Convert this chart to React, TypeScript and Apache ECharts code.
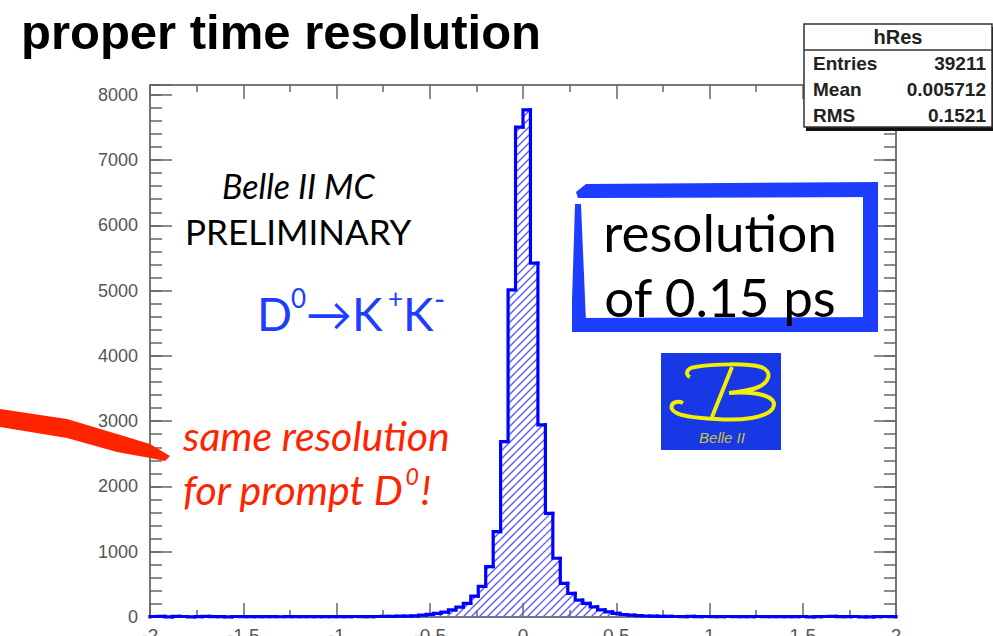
import React, { useEffect, useRef } from 'react';
import * as echarts from 'echarts';

const TITLE = 'proper time resolution';
const X_MIN = -2;
const X_MAX = 2;
const Y_MAX = 8150;
const BIN_WIDTH = 0.04;
// 100 bins of 0.04 from -2 to 2
const binValues = [
  8, 10, 2, 9, 8, 3, 7, 9, 5, 6,
  2, 8, 5, 7, 6, 5, 6, 4, 7, 5,
  6, 5, 7, 6, 5, 7, 6, 8, 7, 6,
  8, 9, 10, 12, 14, 18,
  30, 40, 55, 75, 110, 150, 210, 320, 470, 771,
  1307, 2687, 5010, 7505, 7770, 5420, 2942, 1589, 900, 516,
  363, 260, 210, 155, 110, 80, 55, 38, 28, 20,
  15, 12, 10, 9,
  8, 7, 9, 6, 8, 7, 6, 8, 5, 7,
  6, 8, 7, 5, 6, 7, 6, 8, 2, 7,
  8, 9, 6, 7, 8, 2, 3, 7, 8, 6,
];
const statsTitle = 'hRes';
const statsLabels = ['Entries', 'Mean', 'RMS'];
const statsValues = ['39211', '0.005712', '0.1521'];

const B_PATH =
  'M 29 24 C 24 22, 25 15, 34 14 C 52 11, 86 10, 100 14 C 112 18, 109 30, 95 35 C 87 38, 77 39, 68 40 ' +
  'M 68 40 C 95 38, 118 43, 112 55 C 106 65, 80 68, 55 66 C 35 65, 14 63, 11 56 C 9 50, 16 47, 22 50 ' +
  'M 71 14 L 51 64';
echarts.graphic.registerShape('belleB', echarts.graphic.extendPath(B_PATH, {}));

const HIST_BLUE = '#0000ff';
const HATCH = '#5b5bff';
const AXIS_GRAY = '#777777';
const TICK_GRAY = '#666666';
const LABEL_GRAY = '#555555';
const BLUE = '#1d3dff';
const RED = '#ff2400';

export default function App() {
  const ref = useRef<HTMLDivElement>(null);
  useEffect(() => {
    if (!ref.current) return;
    const chart = echarts.init(ref.current, undefined, { renderer: 'svg' });
    const data = binValues.map((v, i) => {
      const lo = X_MIN + i * BIN_WIDTH;
      return [lo, lo + BIN_WIDTH, v, i === 0 ? 0 : binValues[i - 1]];
    });
    const labelFont = { fontFamily: 'Liberation Sans', fontSize: 18, color: LABEL_GRAY };
    const xBase = (pos: 'bottom' | 'top', showLabel: boolean) => ({
      type: 'value', min: X_MIN, max: X_MAX, interval: 0.5, position: pos,
      axisLine: { show: true, onZero: false, lineStyle: { color: AXIS_GRAY, width: 2 } },
      axisTick: { show: true, inside: true, length: 14, lineStyle: { color: TICK_GRAY, width: 1.5 } },
      minorTick: { show: true, splitNumber: 2, length: 7, lineStyle: { color: TICK_GRAY, width: 1.5 } },
      splitLine: { show: false },
      axisLabel: { show: showLabel, margin: 9, ...labelFont, fontSize: 19 },
    });
    const yBase = (pos: 'left' | 'right', interval: number, len: number, showLabel: boolean, showLine: boolean) => ({
      type: 'value', min: 0, max: Y_MAX, interval, position: pos,
      axisLine: { show: showLine, onZero: false, lineStyle: { color: AXIS_GRAY, width: 2 } },
      axisTick: { show: true, inside: true, length: len, lineStyle: { color: TICK_GRAY, width: 1.5 } },
      splitLine: { show: false },
      axisLabel: {
        show: showLabel, margin: 12, ...labelFont,
        formatter: (v: number) => (v % 1000 === 0 ? String(v) : ''),
      },
    });
    const txt = (x: number, y: number, text: string, o: any = {}) => ({
      type: 'text', x, y, z: 20,
      style: {
        text, fill: o.fill || '#000', fontSize: o.fontSize || 20,
        fontFamily: o.fontFamily || 'Liberation Sans', fontWeight: o.fontWeight || 'normal',
        fontStyle: o.fontStyle || 'normal', align: o.align || 'left', verticalAlign: o.verticalAlign || 'middle',
      },
    });
    const statsRows = statsLabels.flatMap((l, i) => [
      txt(813, 63 + i * 26, l, { fontSize: 19, fontWeight: 'bold', fill: '#222' }),
      txt(986, 63 + i * 26, statsValues[i], { fontSize: 19, fontWeight: 'bold', fill: '#222', align: 'right' }),
    ]);
    const option: any = {
      animation: false,
      grid: { left: 150, right: 97, top: 85, bottom: 19, containLabel: false, outerBoundsMode: 'none' },
      xAxis: [xBase('bottom', true), xBase('top', false)],
      yAxis: [
        yBase('left', 1000, 22, true, true),
        yBase('left', 200, 12, false, false),
        yBase('right', 1000, 22, false, true),
        yBase('right', 200, 12, false, false),
      ],
      series: [
        {
          type: 'custom', xAxisIndex: 0, yAxisIndex: 0, data,
          encode: { x: [0, 1], y: 2 },
          renderItem: (params: any, api: any) => {
            const lo = api.value(0), hi = api.value(1), v = api.value(2), prev = api.value(3);
            const pTop = api.coord([lo, v]);
            const pBase = api.coord([hi, 0]);
            const yPrev = api.coord([lo, prev])[1];
            const x0 = pTop[0], yTop = pTop[1], x1 = pBase[0], yBot = pBase[1];
            const children: any[] = [];
            if (yBot - yTop > 2) {
              const S = 8;
              const cStart = Math.ceil((x0 + yTop) / S) * S;
              for (let c = cStart; c <= x1 + yBot; c += S) {
                const xa = Math.max(x0, c - yBot);
                const xb = Math.min(x1, c - yTop);
                if (xb > xa) {
                  children.push({ type: 'line', shape: { x1: xa, y1: c - xa, x2: xb, y2: c - xb }, style: { stroke: HATCH, lineWidth: 1.4 }, silent: true });
                }
              }
            }
            const pts = [[x0, yPrev], [x0, yTop], [x1, yTop]];
            if (params.dataIndex === binValues.length - 1) pts.push([x1, yBot]);
            children.push({ type: 'polyline', shape: { points: pts }, style: { stroke: HIST_BLUE, lineWidth: 3.2, fill: 'none', lineCap: 'square', lineJoin: 'miter' } });
            return { type: 'group', children };
          },
        },
      ],
      graphic: [
        txt(21, 32, TITLE, { fontSize: 49, fontWeight: 'bold' }),
        // stats box
        { type: 'rect', z: 15, shape: { x: 806, y: 27, width: 190, height: 104 }, style: { fill: '#111' } },
        { type: 'rect', z: 16, shape: { x: 804, y: 24, width: 188, height: 103 }, style: { fill: '#fff', stroke: '#333', lineWidth: 1.5 } },
        { type: 'line', z: 17, shape: { x1: 804, y1: 50, x2: 992, y2: 50 }, style: { stroke: '#333', lineWidth: 1.5 } },
        txt(898, 37, statsTitle, { fontSize: 20, fontWeight: 'bold', fill: '#222', align: 'center' }),
        ...statsRows,
        // Belle II MC / PRELIMINARY
        txt(222, 185, 'Belle II MC', { fontSize: 34, fontFamily: 'Lato', fontStyle: 'italic' }),
        txt(185, 231, 'PRELIMINARY', { fontSize: 35, fontFamily: 'Lato' }),
        // D0 -> K+ K-
        txt(257, 313, 'D', { fontSize: 46, fontFamily: 'Lato', fill: BLUE }),
        txt(291, 298, '0', { fontSize: 26, fontFamily: 'Lato', fill: BLUE }),
        txt(306, 313, '→K', { fontSize: 46, fontFamily: 'Lato', fill: BLUE }),
        txt(388, 298, '+', { fontSize: 26, fontFamily: 'Lato', fill: BLUE }),
        txt(403, 313, 'K', { fontSize: 46, fontFamily: 'Lato', fill: BLUE }),
        txt(434, 298, '-', { fontSize: 30, fontFamily: 'Lato', fill: BLUE }),
        // red text and brush stroke
        { type: 'polygon', z: 12, shape: { points: [[0, 409], [67, 419], [117, 434], [150, 444], [170, 456], [165, 461], [150, 458], [117, 452], [67, 438], [0, 427]] }, style: { fill: RED } },
        txt(183, 435, 'same resolution', { fontSize: 41, fontFamily: 'Lato', fontStyle: 'italic', fill: RED }),
        {
          type: 'text', x: 183, y: 489, z: 20,
          style: {
            text: '{m|for prompt D}{s|0}{m|!}', verticalAlign: 'middle', align: 'left',
            rich: {
              m: { fontSize: 41, lineHeight: 50, fontFamily: 'Lato', fontStyle: 'italic', fill: RED },
              s: { fontSize: 23, lineHeight: 26, fontFamily: 'Lato', fontStyle: 'italic', fill: RED, verticalAlign: 'top', padding: [0, 2, 0, 2] },
            },
          },
        },
        // hand-drawn blue box
        { type: 'polygon', z: 12, shape: { points: [[576, 192], [586, 184], [878, 182], [878, 197], [590, 198], [578, 198]] }, style: { fill: BLUE } },
        { type: 'polygon', z: 12, shape: { points: [[575, 204], [581, 204], [586, 322], [572, 332], [572, 300]] }, style: { fill: BLUE } },
        { type: 'polygon', z: 12, shape: { points: [[572, 318], [878, 317], [878, 332], [572, 332]] }, style: { fill: BLUE } },
        { type: 'polygon', z: 12, shape: { points: [[863, 184], [878, 182], [878, 332], [863, 332]] }, style: { fill: BLUE } },
        txt(720, 231, 'resolution', { fontSize: 53, fontFamily: 'Lato', align: 'center' }),
        txt(720, 296, 'of 0.15 ps', { fontSize: 53, fontFamily: 'Lato', align: 'center' }),
        // Belle II logo
        { type: 'rect', z: 12, shape: { x: 661, y: 353, width: 120, height: 97 }, style: { fill: '#1838e6' } },
        { type: 'belleB', z: 13, x: 661, y: 353, style: { fill: 'none', stroke: '#f2ef00', lineWidth: 4 } },
        txt(722, 437, 'Belle II', { fontSize: 15, fontFamily: 'Liberation Sans', fontStyle: 'italic', fill: '#c9c23c', align: 'center' }),
      ],
    };
    chart.setOption(option);
    return () => chart.dispose();
  }, []);
  return <div ref={ref} style={{ position: 'fixed', left: 0, top: 0, width: 993, height: 636, background: '#fff' }} />;
}
